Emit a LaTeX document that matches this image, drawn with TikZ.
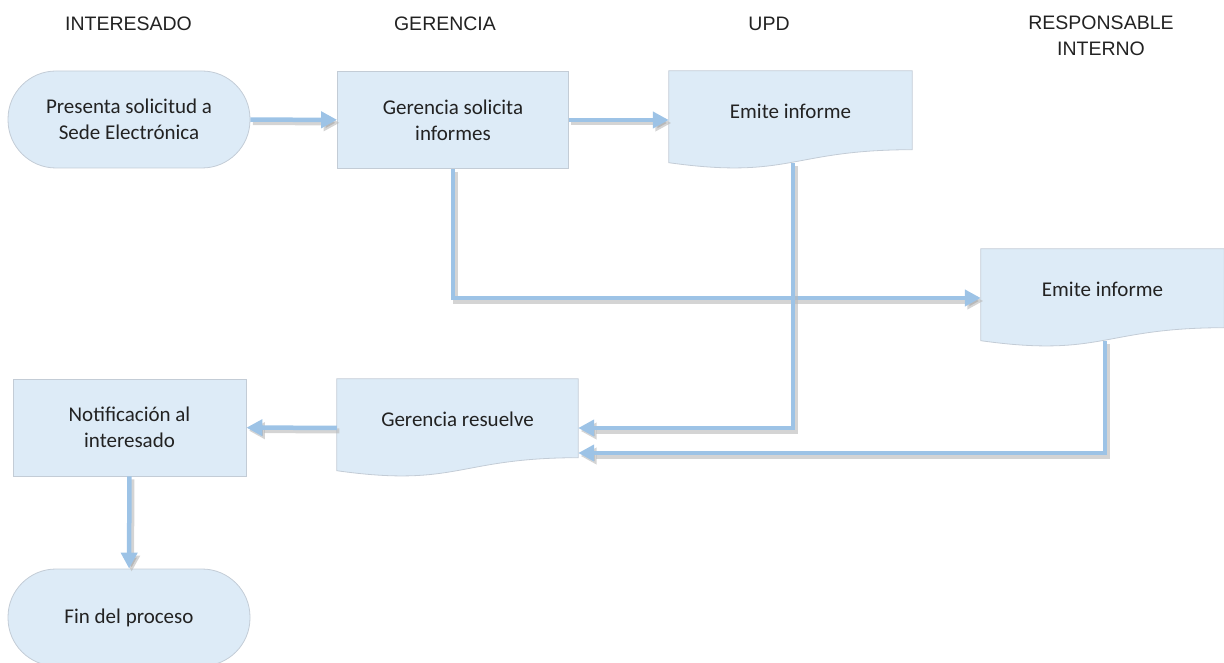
\documentclass[tikz,border=0pt]{standalone}
\usepackage{fontspec}
\setmainfont{Carlito}
\newfontfamily\headfont{Liberation Sans}
\usetikzlibrary{arrows.meta,calc,backgrounds}
\definecolor{boxfill}{HTML}{DDEBF7}
\definecolor{boxline}{HTML}{C3CCD6}
\definecolor{arrowc}{HTML}{9DC3E6}
\definecolor{shadowc}{HTML}{B8B8B8}
\definecolor{txt}{HTML}{222222}
\newcommand\docpath[1]{%
  \path[docshape] (#1.north west) -- (#1.north east)
    -- ($(#1.north east)!0.802!(#1.south east)$)
    .. controls ($(#1.north)!0.802!(#1.south)$) and ($(#1.north)!1.107!(#1.south)$)
    .. ($(#1.north west)!0.934!(#1.south west)$) -- cycle;}
\newcommand\uptext[1]{\raisebox{9pt}[\height][\depth]{#1}}
\newcommand\flowline[1]{%
  \begin{scope}[transform canvas={xshift=2.5pt,yshift=-3pt}]
    \draw[flowshadow] #1;
  \end{scope}
  \draw[flow] #1;}
\begin{document}
\begin{tikzpicture}[x=1pt,y=-1pt,
  every node/.style={font=\fontsize{21}{26}\selectfont, text=txt},
  head/.style={font=\headfont\fontsize{19.5}{26}\selectfont, align=center},
  procbox/.style={draw=boxline, fill=boxfill, line width=0.8pt, minimum width=231pt,
    minimum height=97pt, align=center, inner sep=0pt},
  termbox/.style={procbox, rounded corners=48pt, minimum width=242pt},
  docbox/.style={minimum width=243pt, minimum height=98pt, inner sep=0pt, align=center},
  docshape/.style={draw=boxline, fill=boxfill, line width=0.8pt},
  flow/.style={draw=arrowc, line width=4.5pt,
    -{Triangle[length=16pt,width=16pt,color=arrowc]}},
  flowshadow/.style={draw=shadowc, draw opacity=0.6, line width=5pt,
    -{Triangle[length=16pt,width=16pt,color=shadowc]}},
]
\useasboundingbox (0,0) rectangle (1224,663);
\clip (0,0) rectangle (1224,663);

% headers
\node[head] (hint) at (128.5,23.5) {INTERESADO};
\node[head] (hger) at (445,23.5) {GERENCIA};
\node[head] (hupd) at (769,23.5) {UPD};
\node[head] (hri) at (1101,36) {RESPONSABLE\\INTERNO};

% boxes
\node[termbox] (pres) at (129,119.5) {Presenta solicitud a\\Sede Electrónica};
\node[procbox] (gsol) at (453,120) {Gerencia solicita\\informes};
\node[docbox] (upd) at (790.5,120) {\uptext{Emite informe}};
\node[docbox] (ri) at (1102.5,298) {\uptext{Emite informe}};
\node[procbox, minimum width=233pt] (notif) at (129.5,427.5) {Notificación al\\interesado};
\node[docbox, minimum width=241pt] (gres) at (457.5,428) {\uptext{Gerencia resuelve}};
\node[termbox] (fin) at (129,617.5) {Fin del proceso};

\begin{pgfonlayer}{background}
  \docpath{upd}
  \docpath{ri}
  \docpath{gres}
\end{pgfonlayer}

% connectors
\flowline{(pres) -- (gsol)}
\flowline{(gsol) -- (upd)}
\flowline{(gsol.south) |- (ri.west)}
\flowline{([xshift=2.5pt,yshift=6pt]upd.south) |- (gres.east)}
\flowline{([xshift=2.5pt,yshift=6pt]ri.south) |- ([yshift=-25pt]gres.east)}
\flowline{(gres) -- (notif)}
\flowline{(notif) -- (fin)}
\end{tikzpicture}
\end{document}
